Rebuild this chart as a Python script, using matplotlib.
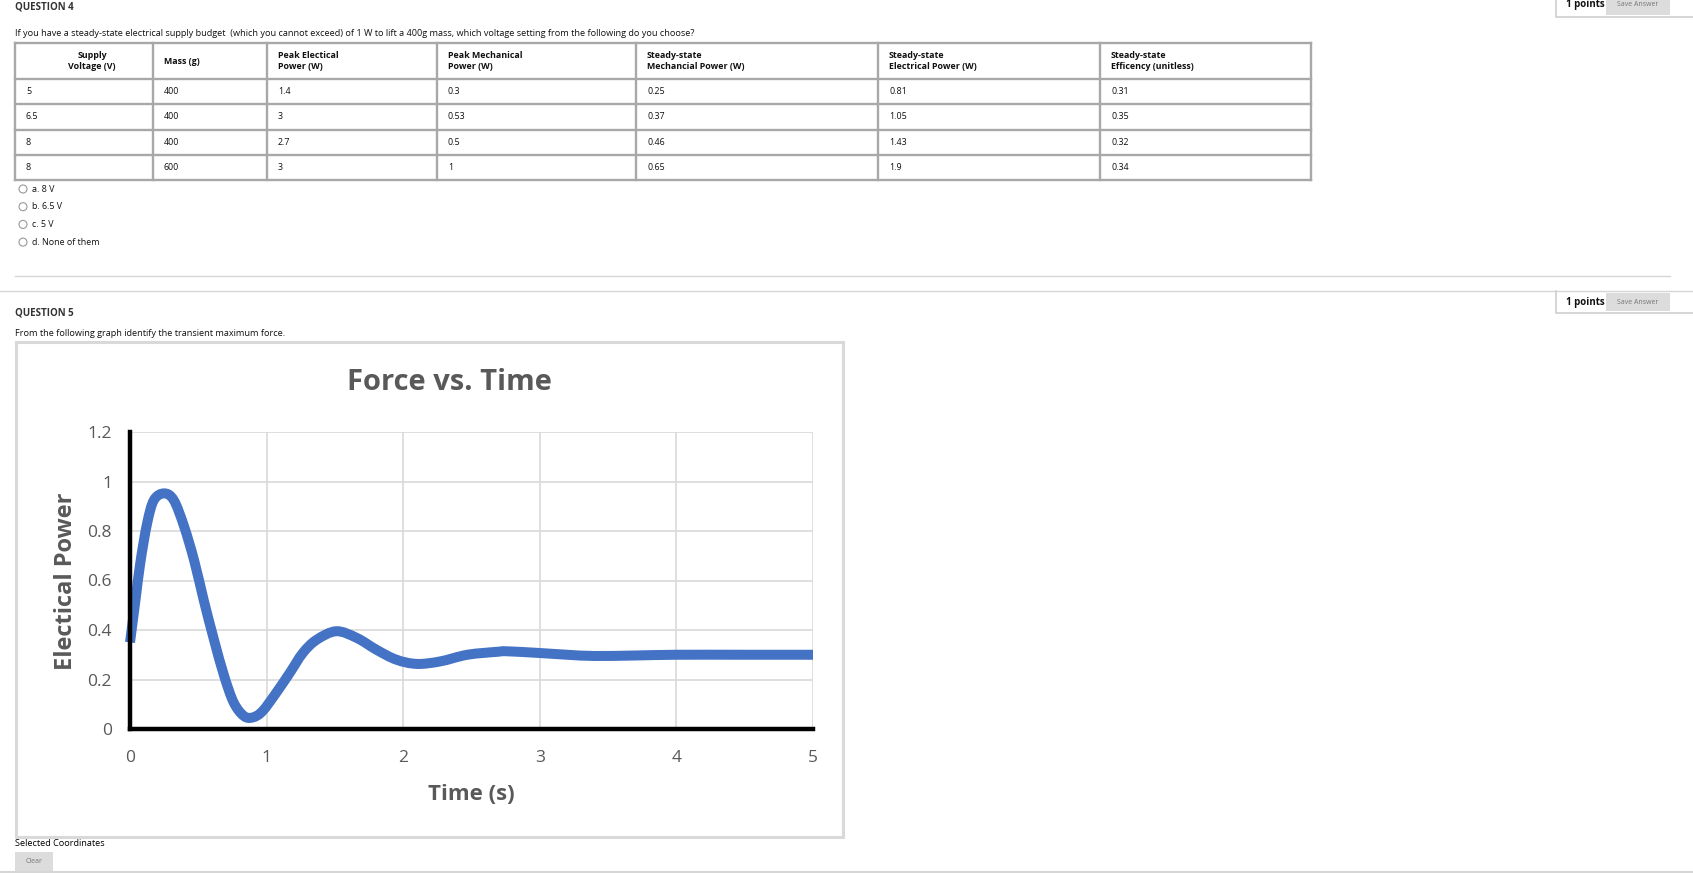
import matplotlib
matplotlib.use('Agg')
import matplotlib.pyplot as plt
from matplotlib.patches import Rectangle, Circle, PathPatch
from matplotlib.path import Path

# ---- page texts ----
q4_title = 'QUESTION 4'
q4_text = ('If you have a steady-state electrical supply budget  (which you cannot exceed) '
           'of 1 W to lift a 400g mass, which voltage setting from the following do you choose?')
headers = ['Supply\nVoltage (V)', 'Mass (g)', 'Peak Electical\nPower (W)', 'Peak Mechanical\nPower (W)',
           'Steady-state\nMechancial Power (W)', 'Steady-state\nElectrical Power (W)',
           'Steady-state\nEfficency (unitless)']
voltage = ['5', '6.5', '8', '8']
mass = ['400', '400', '400', '600']
peak_elec = ['1.4', '3', '2.7', '3']
peak_mech = ['0.3', '0.53', '0.5', '1']
ss_mech = ['0.25', '0.37', '0.46', '0.65']
ss_elec = ['0.81', '1.05', '1.43', '1.9']
ss_eff = ['0.31', '0.35', '0.32', '0.34']
options = ['a. 8 V', 'b. 6.5 V', 'c. 5 V', 'd. None of them']
q5_title = 'QUESTION 5'
q5_text = 'From the following graph identify the transient maximum force.'

# ---- chart data ----
time_s = [0, 0.04, 0.075, 0.125, 0.175, 0.25, 0.32, 0.395, 0.47, 0.54, 0.615, 0.69, 0.76,
          0.835, 0.9, 0.97, 1.07, 1.17, 1.265, 1.365, 1.51, 1.66, 1.805, 1.95, 2.1, 2.27,
          2.47, 2.69, 2.76, 3.0, 3.2, 3.4, 3.7, 4.0, 4.5, 5.0]
power = [0.35, 0.52, 0.67, 0.83, 0.925, 0.952, 0.925, 0.82, 0.68, 0.52, 0.36, 0.213, 0.106,
         0.052, 0.047, 0.072, 0.146, 0.227, 0.307, 0.36, 0.395, 0.368, 0.32, 0.28, 0.263, 0.273,
         0.30, 0.312, 0.314, 0.307, 0.30, 0.295, 0.297, 0.30, 0.30, 0.30]
x_ticks = [0, 1, 2, 3, 4, 5]
y_ticks = [0, 0.2, 0.4, 0.6, 0.8, 1.0, 1.2]
y_tick_labels = ['0', '0.2', '0.4', '0.6', '0.8', '1', '1.2']

W, H = 1693, 873
PAGE_FONT = 'Open Sans'

fig = plt.figure(figsize=(W / 100, H / 100), dpi=100)
fig.patch.set_facecolor('white')

pg = fig.add_axes([0, 0, 1, 1])
pg.set_xlim(0, W)
pg.set_ylim(H, 0)
pg.axis('off')


def txt(x, y, s, size=7, weight='normal', color='#111111', **kw):
    kw.setdefault('ha', 'left')
    kw.setdefault('va', 'center')
    pg.text(x, y, s, fontsize=size, fontweight=weight, color=color, family=PAGE_FONT, **kw)


def points_box(y_top, y_bot, y_text):
    # "1 points / Save Answer" box at the right
    pg.plot([1556, 1556, W], [y_top, y_bot, y_bot], color='#d0d0d0', lw=1.2)
    pg.add_patch(Rectangle((1606, y_top + 2), 64, y_bot - y_top - 4, facecolor='#dcdcdc', edgecolor='none'))
    txt(1566, y_text, '1 points', size=7, weight='bold')
    txt(1638, y_text, 'Save Answer', size=5, color='#777777', ha='center')


def smooth_path(xs, ys):
    # Excel style smoothed line: Catmull-Rom segments as cubic Beziers
    pts = list(zip(xs, ys))
    verts = [pts[0]]
    codes = [Path.MOVETO]
    n = len(pts)
    for i in range(n - 1):
        p0 = pts[max(i - 1, 0)]
        p1 = pts[i]
        p2 = pts[i + 1]
        p3 = pts[min(i + 2, n - 1)]
        c1 = (p1[0] + (p2[0] - p0[0]) / 6, p1[1] + (p2[1] - p0[1]) / 6)
        c2 = (p2[0] - (p3[0] - p1[0]) / 6, p2[1] - (p3[1] - p1[1]) / 6)
        verts += [c1, c2, p2]
        codes += [Path.CURVE4] * 3
    return Path(verts, codes)


# ---- question 4 ----
txt(15, 7, q4_title, size=7, weight='bold', color='#333333')
points_box(-5, 17, 4)
txt(15, 33, q4_text, size=6.6)

col_edges = [15, 153, 267, 437, 636, 878, 1100, 1311]
row_edges = [43, 79, 104, 129.5, 155, 180]
for x in col_edges:
    pg.plot([x, x], [row_edges[0], row_edges[-1]], color='#a8a8a8', lw=1.7, solid_capstyle='projecting')
for y in row_edges:
    pg.plot([col_edges[0], col_edges[-1]], [y, y], color='#a8a8a8', lw=1.7, solid_capstyle='projecting')

hy = (row_edges[0] + row_edges[1]) / 2
for i, h in enumerate(headers):
    if i == 0:
        txt((col_edges[0] + col_edges[1]) / 2 + 8, hy, h, size=6.4, weight='bold', ha='center',
            multialignment='center', linespacing=1.15)
    else:
        txt(col_edges[i] + 11, hy, h, size=6.4, weight='bold', linespacing=1.15)

columns = [voltage, mass, peak_elec, peak_mech, ss_mech, ss_elec, ss_eff]
for r in range(4):
    cy = (row_edges[r + 1] + row_edges[r + 2]) / 2
    for c, col in enumerate(columns):
        txt(col_edges[c] + 11, cy, col[r], size=6.4)

for i, opt in enumerate(options):
    oy = 189 + i * 17.7
    pg.add_patch(Circle((23, oy), 4, facecolor='white', edgecolor='#999999', lw=0.8))
    txt(32, oy, opt, size=6.4)

# separators
pg.plot([15, 1670], [276, 276], color='#d6d6d6', lw=1.0)
pg.plot([0, W], [291, 291], color='#d6d6d6', lw=1.0)

# ---- question 5 ----
txt(15, 313, q5_title, size=7, weight='bold', color='#333333')
points_box(291, 313, 303)
txt(15, 333, q5_text, size=6.6)

# chart picture frame
pg.add_patch(Rectangle((16, 342), 827, 495, facecolor='white', edgecolor='#d9d9d9', lw=2.2))

txt(15, 844, 'Selected Coordinates', size=6.6, color='#000000')
pg.add_patch(Rectangle((15, 852), 38, 19, facecolor='#dcdcdc', edgecolor='none'))
txt(34, 861.5, 'Clear', size=5, color='#777777', ha='center')
pg.plot([0, W], [872, 872], color='#d6d6d6', lw=1.5)

# ---- the chart ----
x0, x1, y0, y1 = 130, 813, 432, 729
ax = fig.add_axes([x0 / W, 1 - y1 / H, (x1 - x0) / W, (y1 - y0) / H])
ax.set_facecolor('none')
curve = PathPatch(smooth_path(time_s, power), facecolor='none', edgecolor='#4472C4', lw=7.2,
                  capstyle='butt', joinstyle='round', clip_on=False, zorder=3)
ax.add_patch(curve)
ax.set_xlim(0, 5)
ax.set_ylim(0, 1.2)
ax.set_xticks(x_ticks)
ax.set_yticks(y_ticks)
ax.set_yticklabels(y_tick_labels)
ax.grid(True, color='#d9d9d9', lw=1.2)
ax.set_axisbelow(True)
for s in ['top', 'right']:
    ax.spines[s].set_visible(False)
for s in ['left', 'bottom']:
    ax.spines[s].set_linewidth(3.2)
    ax.spines[s].set_color('black')
    ax.spines[s].set_zorder(4)
ax.tick_params(length=0, labelsize=12.5, labelcolor='#595959')
ax.tick_params(axis='x', pad=15)
ax.tick_params(axis='y', pad=13)
for lab in ax.get_xticklabels() + ax.get_yticklabels():
    lab.set_family(PAGE_FONT)

ax.text((449 - x0) / (x1 - x0), (y1 - 383) / (y1 - y0), 'Force vs. Time', transform=ax.transAxes,
        ha='center', va='center', fontsize=21, fontweight='bold', color='#595959', family=PAGE_FONT)
ax.text((471 - x0) / (x1 - x0), (y1 - 795) / (y1 - y0), 'Time (s)', transform=ax.transAxes,
        ha='center', va='center', fontsize=16, fontweight='bold', color='#595959', family=PAGE_FONT)
ax.text((66 - x0) / (x1 - x0), (y1 - 581) / (y1 - y0), 'Electical Power', transform=ax.transAxes,
        ha='center', va='center', rotation=90, fontsize=17, fontweight='bold', color='#595959',
        family=PAGE_FONT)

fig.savefig('out.png', dpi=100, facecolor='white')
